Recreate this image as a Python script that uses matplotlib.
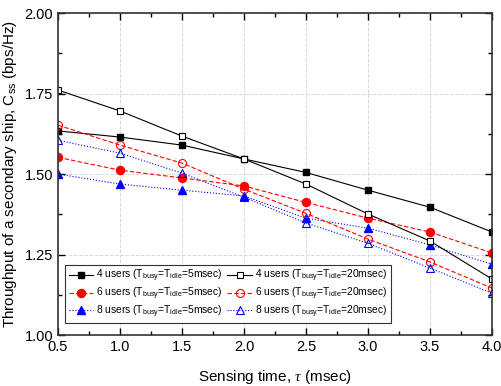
import matplotlib
matplotlib.use("Agg")
import matplotlib.pyplot as plt
from matplotlib.ticker import MultipleLocator

plt.rcParams['font.family'] = ['Liberation Sans', 'DejaVu Sans']
plt.rcParams['mathtext.fontset'] = 'custom'
plt.rcParams['mathtext.rm'] = 'Liberation Sans'
plt.rcParams['mathtext.it'] = 'Liberation Serif:italic'

tau = [0.5, 1.0, 1.5, 2.0, 2.5, 3.0, 3.5, 4.0]

u4_5 = [1.634, 1.615, 1.590, 1.547, 1.505, 1.450, 1.397, 1.320]
u4_20 = [1.761, 1.696, 1.618, 1.547, 1.469, 1.376, 1.292, 1.174]
u6_5 = [1.552, 1.512, 1.488, 1.463, 1.412, 1.363, 1.320, 1.255]
u6_20 = [1.652, 1.590, 1.534, 1.453, 1.378, 1.298, 1.227, 1.146]
u8_5 = [1.500, 1.469, 1.450, 1.432, 1.363, 1.332, 1.280, 1.220]
u8_20 = [1.605, 1.565, 1.503, 1.428, 1.348, 1.285, 1.208, 1.130]

fig = plt.figure(figsize=(5.01, 3.86), dpi=100)
ax = fig.add_axes([0.1158, 0.132, 0.8662, 0.834])

lab5 = r'%d users (T$_{\mathrm{busy}}$=T$_{\mathrm{idle}}$=5msec)'
lab20 = r'%d users (T$_{\mathrm{busy}}$=T$_{\mathrm{idle}}$=20msec)'
lw = 0.8
ms = 5

ax.plot(tau, u4_5, '-', color='black', lw=lw, marker='s', ms=ms,
        mfc='black', mec='black', label=lab5 % 4)
ax.plot(tau, u6_5, '--', color='red', lw=lw, marker='o', ms=ms + 0.8,
        mfc='red', mec='red', label=lab5 % 6, dashes=(4, 2))
ax.plot(tau, u8_5, ':', color='blue', lw=lw, marker='^', ms=ms + 1,
        mfc='blue', mec='blue', label=lab5 % 8)
ax.plot(tau, u4_20, '-', color='black', lw=lw, marker='s', ms=ms,
        mfc='white', mec='black', mew=0.8, label=lab20 % 4)
ax.plot(tau, u6_20, '--', color='red', lw=lw, marker='o', ms=ms + 0.8,
        mfc='none', mec='red', mew=0.8, label=lab20 % 6, dashes=(4, 2))
ax.plot(tau, u8_20, ':', color='blue', lw=lw, marker='^', ms=ms + 1,
        mfc='none', mec='blue', mew=0.8, label=lab20 % 8)

ax.set_xlim(0.5, 4.0)
ax.set_ylim(1.0, 2.0)
ax.xaxis.set_major_locator(MultipleLocator(0.5))
ax.xaxis.set_minor_locator(MultipleLocator(0.25))
ax.yaxis.set_major_locator(MultipleLocator(0.25))
ax.yaxis.set_minor_locator(MultipleLocator(0.125))
ax.xaxis.set_major_formatter(plt.FormatStrFormatter('%.1f'))
ax.yaxis.set_major_formatter(plt.FormatStrFormatter('%.2f'))
ax.tick_params(which='both', direction='in', top=True, right=True,
               labelsize=10.5, width=1)
ax.tick_params(which='major', length=5)
ax.tick_params(which='minor', length=3)
ax.grid(True, which='major', ls='--', color='#d8d8d8', lw=0.7)
for s in ax.spines.values():
    s.set_linewidth(1.2)
    s.set_color('#333333')

ax.set_xlabel(r'Sensing time, $\mathit{\tau}$ (msec)', fontsize=11, labelpad=10)
ax.set_ylabel(r'Throughput of a secondary ship, C$_{\mathrm{ss}}$ (bps/Hz)', fontsize=11)

leg = ax.legend(ncol=2, loc='lower left', bbox_to_anchor=(0.016, 0.037),
                fontsize=7.4, frameon=True, fancybox=False, framealpha=1,
                edgecolor='#333333', handlelength=2.4, columnspacing=0.45,
                handletextpad=0.3, borderpad=0.35, labelspacing=0.15,
                borderaxespad=0)
leg.get_frame().set_linewidth(0.8)

fig.savefig('out.png', dpi=100)
